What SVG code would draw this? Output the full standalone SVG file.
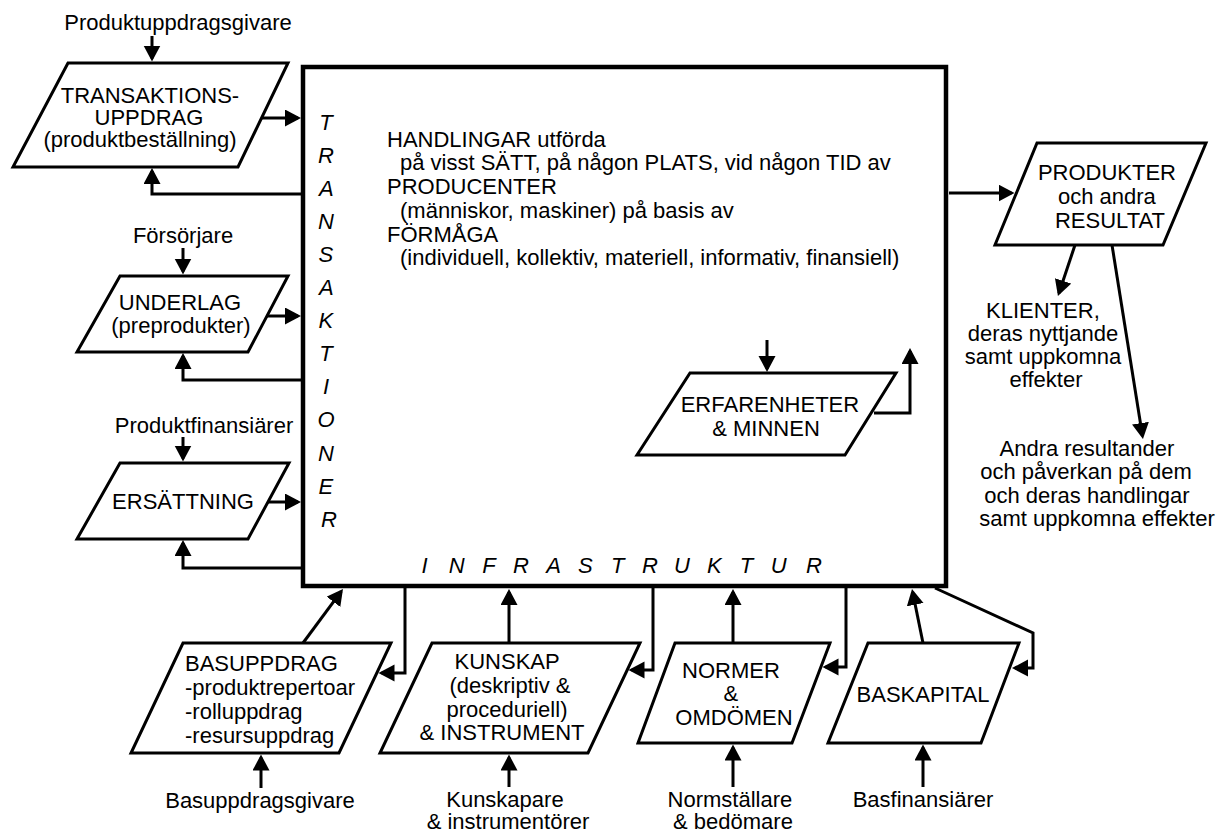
<svg xmlns="http://www.w3.org/2000/svg" width="1216" height="834" viewBox="0 0 1216 834">
  <defs>
    <marker id="arrow" markerUnits="userSpaceOnUse" markerWidth="18" markerHeight="18" refX="13" refY="8.5" orient="auto">
      <path d="M0,0 L16,8.5 L0,17 z" fill="#000"/>
    </marker>
    <style>
      text { font-family: "Liberation Sans", Arial, sans-serif; font-size: 22px; fill: #000; }
      .c { text-anchor: middle; }
      .it { font-style: italic; text-anchor: middle; }
      .shape { fill: #fff; stroke: #000; stroke-width: 3; stroke-linejoin: miter; }
      .main { fill: #fff; stroke: #000; stroke-width: 4.5; }
      .conn { fill: none; stroke: #000; stroke-width: 3; marker-end: url(#arrow); }
    </style>
  </defs>

  <rect width="1216" height="834" fill="#fff"/>

  <!-- central activity box -->
  <g id="activity">
    <rect class="main" x="303" y="67" width="643" height="519"/>
    <text>
      <tspan x="387" y="146.7">HANDLINGAR utförda</tspan>
      <tspan x="400" y="170.4">på visst SÄTT, på någon PLATS, vid någon TID av</tspan>
      <tspan x="387" y="194">PRODUCENTER</tspan>
      <tspan x="400" y="217.8">(människor, maskiner) på basis av</tspan>
      <tspan x="387" y="241.5">FÖRMÅGA</tspan>
      <tspan x="400" y="265.2">(individuell, kollektiv, materiell, informativ, finansiell)</tspan>
    </text>
    <!-- vertical label -->
    <text class="it">
      <tspan x="329" y="129.5">T</tspan>
      <tspan x="329" y="162.6">R</tspan>
      <tspan x="329" y="195.7">A</tspan>
      <tspan x="329" y="228.8">N</tspan>
      <tspan x="329" y="261.9">S</tspan>
      <tspan x="329" y="295">A</tspan>
      <tspan x="329" y="328.1">K</tspan>
      <tspan x="329" y="361.2">T</tspan>
      <tspan x="329" y="394.3">I</tspan>
      <tspan x="329" y="427.4">O</tspan>
      <tspan x="329" y="460.5">N</tspan>
      <tspan x="329" y="493.6">E</tspan>
      <tspan x="329" y="526.7">R</tspan>
    </text>
    <!-- bottom label -->
    <text class="it" y="573">
      <tspan x="427.5">I</tspan>
      <tspan x="459.7">N</tspan>
      <tspan x="491.9">F</tspan>
      <tspan x="524.1">R</tspan>
      <tspan x="556.3">A</tspan>
      <tspan x="588.5">S</tspan>
      <tspan x="620.7">T</tspan>
      <tspan x="652.9">R</tspan>
      <tspan x="685.1">U</tspan>
      <tspan x="717.3">K</tspan>
      <tspan x="749.5">T</tspan>
      <tspan x="781.7">U</tspan>
      <tspan x="813.9">R</tspan>
    </text>
  </g>

  <g id="transaktionsuppdrag">
    <polygon class="shape" points="68,63 288,63 238,167 13,167"/>
    <text class="c">
      <tspan x="153" y="103">TRANSAKTIONS-</tspan>
      <tspan x="152" y="125">UPPDRAG</tspan>
      <tspan x="140" y="147">(produktbeställning)</tspan>
    </text>
  </g>

  <g id="underlag">
    <polygon class="shape" points="120,276 288,276 248,352 77,352"/>
    <text class="c">
      <tspan x="183" y="310">UNDERLAG</tspan>
      <tspan x="181" y="333">(preprodukter)</tspan>
    </text>
  </g>

  <g id="ersattning">
    <polygon class="shape" points="120,463 289,463 248,539 77,539"/>
    <text class="c" x="183" y="509">ERSÄTTNING</text>
  </g>

  <g id="erfarenheter">
    <polygon class="shape" points="690,373 896,373 845,455 637,455"/>
    <text class="c">
      <tspan x="773" y="412">ERFARENHETER</tspan>
      <tspan x="766" y="436">&amp; MINNEN</tspan>
    </text>
  </g>

  <g id="produkter">
    <polygon class="shape" points="1037,143 1206,143 1163,245 995,245"/>
    <text class="c">
      <tspan x="1110" y="180">PRODUKTER</tspan>
      <tspan x="1110" y="204">och andra</tspan>
      <tspan x="1110" y="228">RESULTAT</tspan>
    </text>
  </g>

  <g id="basuppdrag">
    <polygon class="shape" points="183,643 391,643 339,753 131,753"/>
    <text>
      <tspan x="185" y="671">BASUPPDRAG</tspan>
      <tspan x="185" y="695">-produktrepertoar</tspan>
      <tspan x="185" y="719">-rolluppdrag</tspan>
      <tspan x="185" y="743">-resursuppdrag</tspan>
    </text>
  </g>

  <g id="kunskap">
    <polygon class="shape" points="432,643 640,643 588,753 380,753"/>
    <text class="c">
      <tspan x="510" y="669">KUNSKAP</tspan>
      <tspan x="513" y="693">(deskriptiv &amp;</tspan>
      <tspan x="510" y="717">proceduriell)</tspan>
      <tspan x="502" y="740">&amp; INSTRUMENT</tspan>
    </text>
  </g>

  <g id="normer">
    <polygon class="shape" points="675,643 830,643 792,743 638,743"/>
    <text class="c">
      <tspan x="734" y="678">NORMER</tspan>
      <tspan x="734" y="701">&amp;</tspan>
      <tspan x="734" y="725">OMDÖMEN</tspan>
    </text>
  </g>

  <g id="baskapital">
    <polygon class="shape" points="868,643 1019,643 981,743 828,743"/>
    <text class="c" x="923" y="702">BASKAPITAL</text>
  </g>

  <!-- external actors -->
  <g id="actors">
    <text class="c" x="178" y="30">Produktuppdragsgivare</text>
    <text class="c" x="183" y="243">Försörjare</text>
    <text class="c" x="204" y="433">Produktfinansiärer</text>
    <text class="c" x="260" y="808">Basuppdragsgivare</text>
    <text class="c">
      <tspan x="508" y="807">Kunskapare</tspan>
      <tspan x="508" y="829">&amp; instrumentörer</tspan>
    </text>
    <text class="c">
      <tspan x="733" y="807">Normställare</tspan>
      <tspan x="733" y="829">&amp; bedömare</tspan>
    </text>
    <text class="c" x="923" y="807">Basfinansiärer</text>
  </g>

  <g id="klienter">
    <text class="c">
      <tspan x="1046" y="318">KLIENTER,</tspan>
      <tspan x="1046" y="341">deras nyttjande</tspan>
      <tspan x="1046" y="364">samt uppkomna</tspan>
      <tspan x="1046" y="387">effekter</tspan>
    </text>
  </g>

  <g id="resultander">
    <text class="c">
      <tspan x="1090" y="455.5">Andra resultander</tspan>
      <tspan x="1089" y="479">och påverkan på dem</tspan>
      <tspan x="1090" y="502.5">och deras handlingar</tspan>
      <tspan x="1097" y="526">samt uppkomna effekter</tspan>
    </text>
  </g>

  <g id="connectors">
    <!-- left side: inputs -->
    <path class="conn" d="M152,36 V58.5"/>
    <path class="conn" d="M262,118 H298"/>
    <path class="conn" d="M301,194 H152 V171"/>
    <path class="conn" d="M183,248 V271.5"/>
    <path class="conn" d="M267,316 H298"/>
    <path class="conn" d="M301,380 H183 V356"/>
    <path class="conn" d="M183,437 V458.5"/>
    <path class="conn" d="M268,502 H298"/>
    <path class="conn" d="M301,568 H183 V543"/>
    <!-- bottom: infrastructure -->
    <path class="conn" d="M303,643 L341.2,591.4"/>
    <path class="conn" d="M405,588 V673 H381.5"/>
    <path class="conn" d="M261,788 V757.5"/>
    <path class="conn" d="M509,643 V592"/>
    <path class="conn" d="M653,588 V670 H631.5"/>
    <path class="conn" d="M509,787 V757.5"/>
    <path class="conn" d="M733,643 V592"/>
    <path class="conn" d="M846,588 V667 H825.5"/>
    <path class="conn" d="M733,787 V747.5"/>
    <path class="conn" d="M923,643 L912.6,591.9"/>
    <path class="conn" d="M935,588 L1033,633 V668 H1015"/>
    <path class="conn" d="M923,787 V747.5"/>
    <!-- experiences loop -->
    <path class="conn" d="M767,340 V369"/>
    <path class="conn" d="M874,413 H910 V351"/>
    <!-- outputs -->
    <path class="conn" d="M949,193 H1011.5"/>
    <path class="conn" d="M1075,245 L1058.9,293.2"/>
    <path class="conn" d="M1112,245 L1142.5,436"/>
  </g>
</svg>
